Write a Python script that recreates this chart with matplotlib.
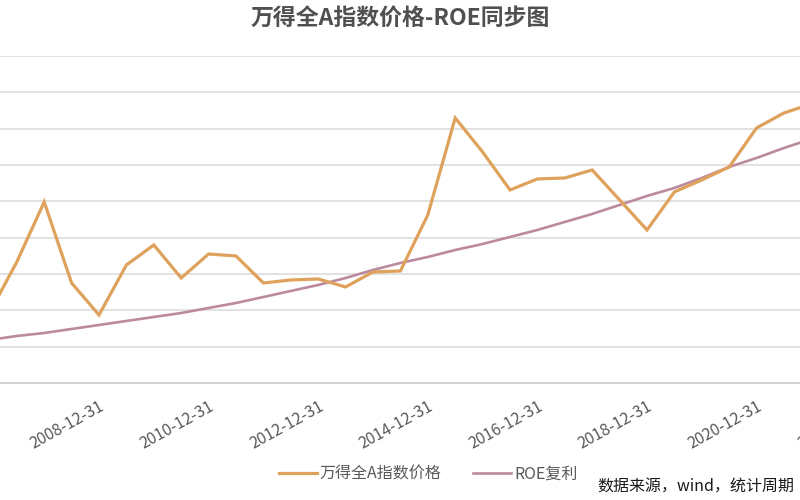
import matplotlib
matplotlib.use("Agg")
import matplotlib.pyplot as plt
import numpy as np

plt.rcParams['font.family'] = ['Noto Sans CJK SC', 'DejaVu Sans']

# ---------------- data ----------------
dates = [
    "2006-12-31", "2007-06-30", "2007-12-31", "2008-06-30", "2008-12-31",
    "2009-06-30", "2009-12-31", "2010-06-30", "2010-12-31", "2011-06-30",
    "2011-12-31", "2012-06-30", "2012-12-31", "2013-06-30", "2013-12-31",
    "2014-06-30", "2014-12-31", "2015-06-30", "2015-12-31", "2016-06-30",
    "2016-12-31", "2017-06-30", "2017-12-31", "2018-06-30", "2018-12-31",
    "2019-06-30", "2019-12-31", "2020-06-30", "2020-12-31", "2021-06-30",
    "2021-12-31",
]
index_price = [
    1927, 3331, 4983, 2753, 1872, 3248, 3799, 2890, 3551, 3496,
    2753, 2835, 2863, 2643, 3056, 3083, 4625, 7295, 6359, 5313,
    5616, 5643, 5864, 5038, 4212, 5258, 5588, 5946, 7020, 7433,
    7680,
]
roe_compound = [
    1184, 1294, 1376, 1487, 1597, 1707, 1817, 1927, 2065, 2202,
    2367, 2533, 2698, 2890, 3111, 3303, 3469, 3661, 3826, 4019,
    4212, 4432, 4652, 4900, 5148, 5368, 5643, 5946, 6194, 6469,
    6717,
]
tick_labels = [
    "2008-12-31", "2010-12-31", "2012-12-31", "2014-12-31",
    "2016-12-31", "2018-12-31", "2020-12-31", "2022-12-31",
]
series_names = ["万得全A指数价格", "ROE复利"]
title = "万得全A指数价格-ROE同步图"
source_note = "数据来源，wind，统计周期"

# ---------------- layout ----------------
W, H = 800, 500
fig = plt.figure(figsize=(W / 100, H / 100), dpi=100)


def halfyear_pos(s):
    y, m = int(s[:4]), int(s[5:7])
    return (y - 2006) * 2 + m // 6 - 2


x = np.array([halfyear_pos(d) for d in dates])
xt = [halfyear_pos(t) for t in tick_labels]

# the visible picture is a crop of a wider plot area
x_lo, x_hi = -0.6, 32.6
px0, px_step = 99.0, 27.4          # pixel of 2008-12-31 and per half-year
left_px = px0 + px_step * (x_lo - 4)
right_px = px0 + px_step * (x_hi - 4)
top_px, bottom_px = 56.0, 383.0
ax = fig.add_axes([left_px / W, 1 - bottom_px / H,
                   (right_px - left_px) / W, (bottom_px - top_px) / H])

c_price = "#DFA25C"
c_roe = "#BC8AA0"
ax.plot(x, index_price, color=c_price, lw=2.3, label=series_names[0],
        solid_joinstyle="miter", zorder=3)
ax.plot(x, roe_compound, color=c_roe, lw=1.9, label=series_names[1], zorder=2)

ax.set_xlim(x_lo, x_hi)
ax.set_ylim(0, 9000)
ax.set_yticks(np.arange(0, 9001, 1000))
ax.yaxis.grid(True, color="#E2E2E2", lw=1.4)
ax.set_axisbelow(True)
for s in ["top", "left", "right"]:
    ax.spines[s].set_visible(False)
ax.spines["bottom"].set_color("#D2D2D2")
ax.spines["bottom"].set_linewidth(1.4)
ax.tick_params(axis="y", left=False, labelleft=False)
ax.set_xticks(xt)
ax.set_xticklabels(tick_labels, rotation=29, ha="right", va="top",
                   rotation_mode="anchor", fontsize=11.5, color="#595959")
ax.tick_params(axis="x", length=0, pad=11)

fig.text(0.5, 1 - 18 / H, title, ha="center", va="center", fontsize=16.5,
         fontweight="bold", color="#505050")

leg = fig.legend(loc="center", bbox_to_anchor=(428 / W, 1 - 474 / H),
                 ncol=2, frameon=False, fontsize=11.5, handlelength=2.4,
                 handletextpad=0.15, columnspacing=2.0)
for t in leg.get_texts():
    t.set_color("#595959")

fig.text(597 / W, 1 - 487 / H, source_note, ha="left", va="center",
         fontsize=11.5, color="#1a1a1a")

fig.savefig("out.png", dpi=100)
